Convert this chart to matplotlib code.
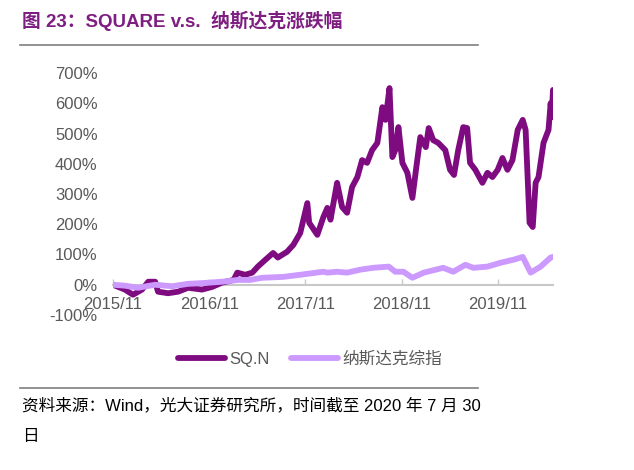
import matplotlib.pyplot as plt
import pandas as pd
from matplotlib.lines import Line2D

plt.rcParams['font.family'] = ['Liberation Sans', 'Noto Sans CJK SC', 'DejaVu Sans']

# SQ.N 涨跌幅 (%)
sq_dates = ['2015-11-19', '2016-01-03', '2016-02-03', '2016-03-08', '2016-04-01', '2016-04-27',
            '2016-05-08', '2016-06-15', '2016-07-23', '2016-08-30', '2016-10-22', '2016-11-30',
            '2017-01-06', '2017-02-19', '2017-03-05', '2017-04-04', '2017-05-01', '2017-05-22',
            '2017-06-19', '2017-07-19', '2017-08-06', '2017-09-10', '2017-10-04', '2017-10-30',
            '2017-11-26', '2017-12-03', '2018-01-03', '2018-01-26', '2018-02-10', '2018-02-22',
            '2018-03-19', '2018-04-07', '2018-04-26', '2018-05-15', '2018-06-04', '2018-06-22',
            '2018-07-11', '2018-07-30', '2018-08-19', '2018-09-07', '2018-09-19', '2018-10-04',
            '2018-10-15', '2018-10-26', '2018-11-07', '2018-11-22', '2018-12-11', '2018-12-30',
            '2019-01-14', '2019-01-29', '2019-02-19', '2019-03-02', '2019-03-19', '2019-04-07',
            '2019-05-04', '2019-05-22', '2019-06-06', '2019-06-22', '2019-07-11', '2019-07-26',
            '2019-08-06', '2019-08-26', '2019-09-22', '2019-10-11', '2019-10-30', '2019-11-19',
            '2019-12-07', '2019-12-26', '2020-01-14', '2020-02-03', '2020-02-22', '2020-03-04',
            '2020-03-19', '2020-03-31', '2020-04-11', '2020-04-22', '2020-05-11', '2020-05-30',
            '2020-06-07', '2020-06-11', '2020-06-16']
sq_values = [0, -16, -33, -16, 10, 10,
             -23, -28, -23, -10, -16, -7,
             7, 16, 40, 33, 40, 60,
             82, 105, 90, 109, 132, 171,
             270, 205, 165, 224, 254, 215,
             337, 257, 238, 323, 356, 412,
             403, 445, 469, 587, 545, 650,
             422, 445, 521, 403, 370, 287,
             389, 488, 455, 518, 478, 469,
             445, 380, 363, 445, 521, 518,
             403, 380, 337, 370, 356, 380,
             419, 380, 412, 512, 545, 512,
             205, 191, 337, 356, 469, 512,
             600, 554, 644]

# 纳斯达克综指 涨跌幅 (%)
nq_dates = ['2015-11-19', '2016-01-03', '2016-02-22', '2016-04-27', '2016-06-30', '2016-08-30',
            '2016-11-03', '2017-01-06', '2017-03-09', '2017-04-23', '2017-06-07', '2017-08-26',
            '2017-10-30', '2018-01-26', '2018-02-10', '2018-03-19', '2018-04-26', '2018-06-16',
            '2018-08-03', '2018-10-01', '2018-10-26', '2018-11-26', '2018-12-30', '2019-02-11',
            '2019-04-26', '2019-06-03', '2019-07-19', '2019-08-19', '2019-10-11', '2019-12-01',
            '2020-01-19', '2020-02-22', '2020-03-23', '2020-04-30', '2020-06-07', '2020-06-16']
nq_values = [0, -3, -10, 0, -5, 3,
             6, 10, 16, 16, 23, 26,
             33, 43, 40, 43, 40, 50,
             56, 60, 43, 43, 23, 40,
             56, 43, 66, 56, 60, 73,
             83, 92, 40, 60, 90, 92]

tick_dates = ['2015-11-19', '2016-11-19', '2017-11-19', '2018-11-19', '2019-11-19']
tick_labels = ['2015/11', '2016/11', '2017/11', '2018/11', '2019/11']
y_ticks = [-100, 0, 100, 200, 300, 400, 500, 600, 700]

W, H = 634, 470
fig = plt.figure(figsize=(W / 100, H / 100), dpi=100)

# 标题和分隔线
fig.text(22 / W, 1 - 21 / H, '图 23：SQUARE v.s.  纳斯达克涨跌幅', fontsize=13.5, fontweight='bold',
         color='#7D1E80', ha='left', va='center')
fig.add_artist(Line2D([20 / W, 478 / W], [1 - 44.5 / H, 1 - 44.5 / H], color='#7F7F7F', lw=1.2))
fig.add_artist(Line2D([20 / W, 478 / W], [1 - 388 / H, 1 - 388 / H], color='#7F7F7F', lw=1.2))

ax = fig.add_axes([113 / W, 1 - 315 / H, 440 / W, (315 - 73) / H])
l1, = ax.plot(pd.to_datetime(sq_dates), sq_values, color='#7E0C80', lw=4.2,
              solid_capstyle='round', solid_joinstyle='round', label='SQ.N')
l2, = ax.plot(pd.to_datetime(nq_dates), nq_values, color='#CC99FF', lw=4.2,
              solid_capstyle='round', solid_joinstyle='round', label='纳斯达克综指')

ax.set_xlim(pd.to_datetime(sq_dates[0]), pd.to_datetime(sq_dates[-1]))
ax.set_ylim(-100, 700)
ax.set_yticks(y_ticks)
ax.set_yticklabels([f'{v}%' for v in y_ticks])
ax.set_xticks(pd.to_datetime(tick_dates))
ax.set_xticklabels(tick_labels)

for s in ['top', 'right', 'left']:
    ax.spines[s].set_visible(False)
ax.spines['bottom'].set_position(('data', 0))
ax.spines['bottom'].set_color('#C8C8C8')
ax.spines['bottom'].set_linewidth(1.5)
ax.spines['bottom'].set_zorder(0)
ax.tick_params(axis='x', direction='in', length=4, width=1, color='#C8C8C8',
               labelsize=12, labelcolor='#595959', pad=9)
ax.tick_params(axis='y', length=0, labelsize=12, labelcolor='#595959', pad=11)
ax.patch.set_visible(False)

fig.legend(handles=[l1, l2], loc='center', bbox_to_anchor=(310 / W, 1 - 359 / H), ncol=2,
           frameon=False, fontsize=12, labelcolor='#595959', handlelength=2.8,
           handletextpad=0.25, columnspacing=1.3)

# 资料来源
fig.text(22 / W, 1 - 405 / H, '资料来源：Wind，光大证券研究所，时间截至 2020 年 7 月 30',
         fontsize=12, color='black', ha='left', va='center')
fig.text(22 / W, 1 - 437 / H, '日', fontsize=12, color='black', ha='left', va='center')

fig.savefig('out.png', dpi=100)
